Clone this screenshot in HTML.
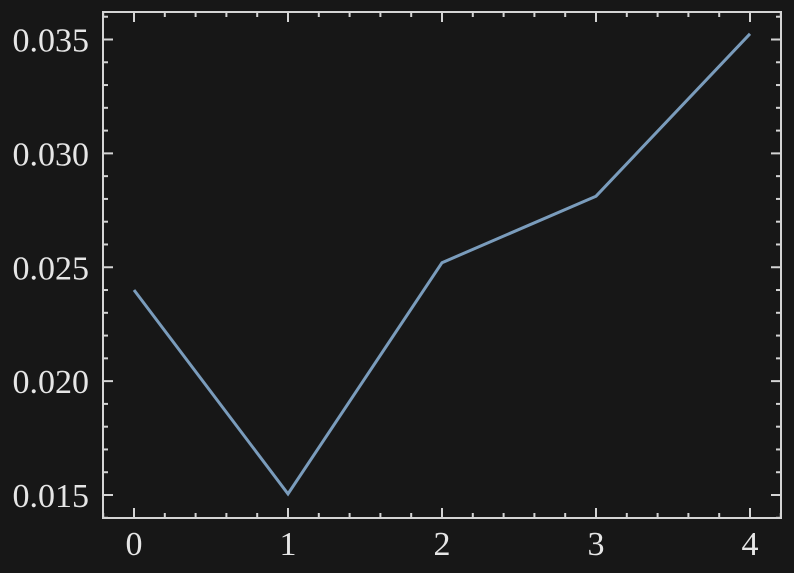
<!DOCTYPE html>
<html><head><meta charset="utf-8"><style>
html,body{margin:0;padding:0;background:#171717;}
svg{display:block;}
text{font-family:"Liberation Serif",serif;font-size:34px;fill:#e6e6e6;}
</style></head><body>
<svg id="chart" width="794" height="573" viewBox="0 0 794 573" xmlns="http://www.w3.org/2000/svg">
<rect width="794" height="573" fill="#171717"/>
<g id="ticks"></g>
<g id="labels"></g>
<polyline id="line" fill="none" stroke="#7a9cbc" stroke-width="3" stroke-linejoin="miter"/>
<rect x="103" y="12" width="678" height="506" fill="none" stroke="#d4d4d4" stroke-width="2"/>
</svg>
<script>
const xValues = [0, 1, 2, 3, 4];
const yValues = [0.0240, 0.01505, 0.0252, 0.02812, 0.03525];
const xTicks = [0, 1, 2, 3, 4];
const yTicks = [0.015, 0.020, 0.025, 0.030, 0.035];
const yTickLabels = ["0.015", "0.020", "0.025", "0.030", "0.035"];

const L=103,R=781,T=12,B=518;
const xs = v => 134 + (v-0)*(750-134)/4;
const ys = v => 495 + (v-0.015)*(39.5-495)/0.020;
const NS="http://www.w3.org/2000/svg";
const tg=document.getElementById('ticks'), lg=document.getElementById('labels');
function ln(x1,y1,x2,y2,name){const l=document.createElementNS(NS,'line');
l.setAttribute('x1',x1);l.setAttribute('y1',y1);l.setAttribute('x2',x2);l.setAttribute('y2',y2);
l.setAttribute('stroke','#d4d4d4');l.setAttribute('stroke-width','2');


tg.appendChild(l);}
for(let v=-0.2; v<=4.2001; v+=0.2){const x=xs(v); if(x<L||x>R) continue;
 const major=Math.abs(v-Math.round(v))<1e-6; const len=major?10:5;
 ln(x,B,x,B-len,'x-tick'); ln(x,T,x,T+len,'x-tick-top');}
for(let v=0.013; v<=0.0365; v+=0.001){const y=ys(v); if(y<T||y>B) continue;
 const major=Math.abs(v*200-Math.round(v*200))<1e-6; const len=major?10:5;
 ln(L,y,L+len,y,'y-tick'); ln(R,y,R-len,y,'y-tick-right');}
xTicks.forEach(v=>{const t=document.createElementNS(NS,'text');
 t.setAttribute('x',xs(v));t.setAttribute('y',555);t.setAttribute('text-anchor','middle');
 t.textContent=String(v);
 
 
 lg.appendChild(t);});
yTicks.forEach((v,i)=>{const t=document.createElementNS(NS,'text');
 t.setAttribute('x',89);t.setAttribute('y',ys(v)+12);t.setAttribute('text-anchor','end');
 t.textContent=yTickLabels[i];
 
 
 lg.appendChild(t);});
document.getElementById('line').setAttribute('points', xValues.map((x,i)=>xs(x)+','+ys(yValues[i])).join(' '));
</script>
</body></html>
